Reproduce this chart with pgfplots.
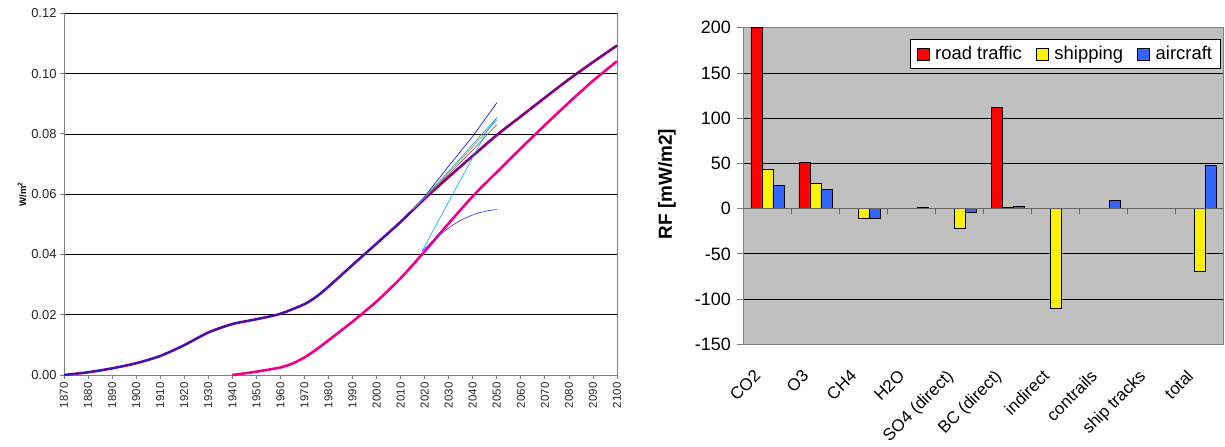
\documentclass[border=0pt]{standalone}
\usepackage{fontspec}
\setmainfont{Liberation Sans}
\usepackage{pgfplots}
\pgfplotsset{compat=1.18}
\definecolor{exblue}{HTML}{3366FF}
\definecolor{exgray}{HTML}{C0C0C0}
\definecolor{exaxis}{HTML}{808080}
\definecolor{expurple}{HTML}{800080}
\definecolor{exnavy}{HTML}{2020D0}
\definecolor{exteal}{HTML}{339999}
\definecolor{exgteal}{HTML}{66A0A0}
\definecolor{exbrown}{HTML}{A05050}
\begin{document}
\begin{tikzpicture}
\useasboundingbox (0bp,0bp) rectangle (1225bp,447bp);
% ---------------- left chart ----------------
\begin{axis}[
  at={(64bp,72bp)}, anchor=south west, scale only axis,
  width=553bp, height=361.7bp,
  xmin=1870, xmax=2100, ymin=0, ymax=0.12,
  xtick={1870,1880,...,2100},
  ytick={0,0.02,0.04,0.06,0.08,0.10,0.12},
  yticklabels={0.00,0.02,0.04,0.06,0.08,0.10,0.12},
  /pgf/number format/assume math mode=true,
  /pgf/number format/1000 sep={},
  xticklabel style={rotate=90, anchor=east, font=\fontsize{11.5}{12}\selectfont, text=black!85},
  yticklabel style={font=\fontsize{13}{14}\selectfont, text=black!85},
  axis x line*=bottom, axis y line*=left,
  axis line style={draw=exaxis, line width=1bp},
  tick align=outside, major tick length=4bp,
  tick style={draw=exaxis, line width=0.8bp},
  ymajorgrids, major grid style={draw=black, line width=0.7bp},
  ylabel={\textbf{W/m\textsuperscript{2}}},
  ylabel style={at={(axis description cs:-0.076,0.5)}, anchor=center, font=\fontsize{9.5}{10}\selectfont},
  clip=false,
]
\draw[exaxis, line width=1bp] (rel axis cs:1,0) -- (rel axis cs:1,1);
% purple (total) curve
\addplot[expurple, line width=2.6bp, smooth, tension=0.4] coordinates {
(1870,0)(1880,0.0009)(1890,0.0022)(1900,0.0039)(1910,0.0063)(1920,0.0099)(1930,0.0141)
(1940,0.0169)(1950,0.0185)(1960,0.0203)(1970,0.0235)(1975,0.026)(1980,0.0293)(1990,0.0365)
(2000,0.0436)(2010,0.0508)(2020,0.0585)(2030,0.0657)(2040,0.0727)(2050,0.0796)(2060,0.0858)
(2070,0.0920)(2080,0.0981)(2090,0.1038)(2100,0.1093)};
\addplot[exnavy, line width=1.1bp, smooth, tension=0.4] coordinates {
(1870,0)(1880,0.0009)(1890,0.0022)(1900,0.0039)(1910,0.0063)(1920,0.0099)(1930,0.0141)
(1940,0.0169)(1950,0.0185)(1960,0.0203)(1970,0.0235)(1975,0.026)(1980,0.0293)(1990,0.0365)
(2000,0.0436)(2010,0.0508)(2020,0.0585)};
% magenta curve
\addplot[magenta, line width=2.6bp, smooth, tension=0.4] coordinates {
(1940,0)(1950,0.0011)(1960,0.0025)(1965,0.0038)(1970,0.0058)(1975,0.0085)(1980,0.0115)(1990,0.0177)
(2000,0.0244)(2010,0.0321)(2020,0.0410)(2030,0.0503)(2040,0.0593)(2050,0.0673)(2060,0.0752)
(2070,0.0829)(2080,0.0904)(2090,0.0976)(2100,0.1041)};
% scenario lines
\addplot[blue, line width=0.6bp] coordinates {(2015,0.0548)(2020,0.0592)(2030,0.0693)(2040,0.0792)(2050,0.0903)};
\addplot[exteal, line width=0.6bp] coordinates {(2015,0.0548)(2020,0.0590)(2030,0.0676)(2040,0.0765)(2050,0.0854)};
\addplot[exgteal, line width=0.6bp] coordinates {(2015,0.0548)(2020,0.0589)(2030,0.0671)(2040,0.0757)(2050,0.0846)};
\addplot[exbrown, line width=0.6bp] coordinates {(2015,0.0548)(2020,0.0588)(2030,0.0666)(2040,0.0746)(2050,0.0831)};
\addplot[cyan, line width=0.6bp] coordinates {(2019,0.0412)(2030,0.0575)(2040,0.0722)(2046,0.0810)(2050,0.0852)};
\addplot[blue!80, line width=0.6bp, smooth] coordinates {(2019,0.0412)(2025,0.0455)(2030,0.0488)(2035,0.0513)(2040,0.0531)(2045,0.0543)(2050,0.0549)};
\end{axis}
% ---------------- right chart ----------------
\begin{axis}[
  at={(743.3bp,102.7bp)}, anchor=south west, scale only axis,
  width=480.5bp, height=316.6bp,
  xmin=-0.5, xmax=9.5, ymin=-150, ymax=200,
  ybar=0pt, bar width=11bp,
  axis background/.style={fill=exgray},
  xtick={0,1,2,3,4,5,6,7,8,9},
  xticklabels={CO2,O3,CH4,H2O,SO4 (direct),BC (direct),indirect,contrails,ship tracks,total},
  x tick style={draw=none},
  xticklabel style={rotate=45, anchor=north east, font=\fontsize{17}{19}\selectfont, inner sep=1bp, xshift=-22bp, yshift=-2bp},
  ytick={-150,-100,-50,0,50,100,150,200},
  yticklabels={-150,-100,-50,0,50,100,150,200},
  yticklabel style={font=\fontsize{18}{20}\selectfont, xshift=-3bp},
  ytick pos=left,
  tick align=outside, major tick length=6bp,
  y tick style={draw=exaxis, line width=0.8bp},
  axis line style={draw=exaxis, line width=1bp},
  ymajorgrids, major grid style={draw=black, line width=0.7bp},
  ylabel={RF [mW/m2]},
  ylabel style={at={(axis description cs:-0.159,0.506)}, anchor=center, font=\bfseries\fontsize{19}{20}\selectfont},
  legend style={at={(0.993,0.964)}, anchor=north east, legend columns=3, draw=black, fill=white,
    font=\fontsize{18.5}{20}\selectfont, inner xsep=6bp, inner ysep=5bp, line width=0.8bp,
    /tikz/every odd column/.append style={column sep=4bp},
    /tikz/every even column/.append style={column sep=12bp}},
  legend image code/.code={\draw[#1] (0bp,-6bp) rectangle (12bp,6bp);},
  clip=false,
]
\addplot[fill=red, draw=black, line width=0.6bp] coordinates {(0,200)(1,51)(5,112)};
\addplot[fill=yellow, draw=black, line width=0.6bp] coordinates {(0,43)(1,28)(2,-11)(4,-22)(5,2)(6,-110)(9,-69)};
\addplot[fill=exblue, draw=black, line width=0.6bp] coordinates {(0,25.5)(1,21.5)(2,-11)(3,1)(4,-4)(5,2.5)(7,9.5)(9,47.5)};
\legend{road traffic, shipping, aircraft}
\draw[black!60, line width=1bp] (axis cs:-0.5,0) -- (axis cs:9.5,0);
\pgfplotsinvokeforeach{0.5,1.5,2.5,3.5,4.5,5.5,6.5,7.5,8.5}{
  \draw[black!60, line width=0.8bp] (axis cs:#1,0) -- ++(0pt,-5bp);
}
\end{axis}
\end{tikzpicture}
\end{document}
